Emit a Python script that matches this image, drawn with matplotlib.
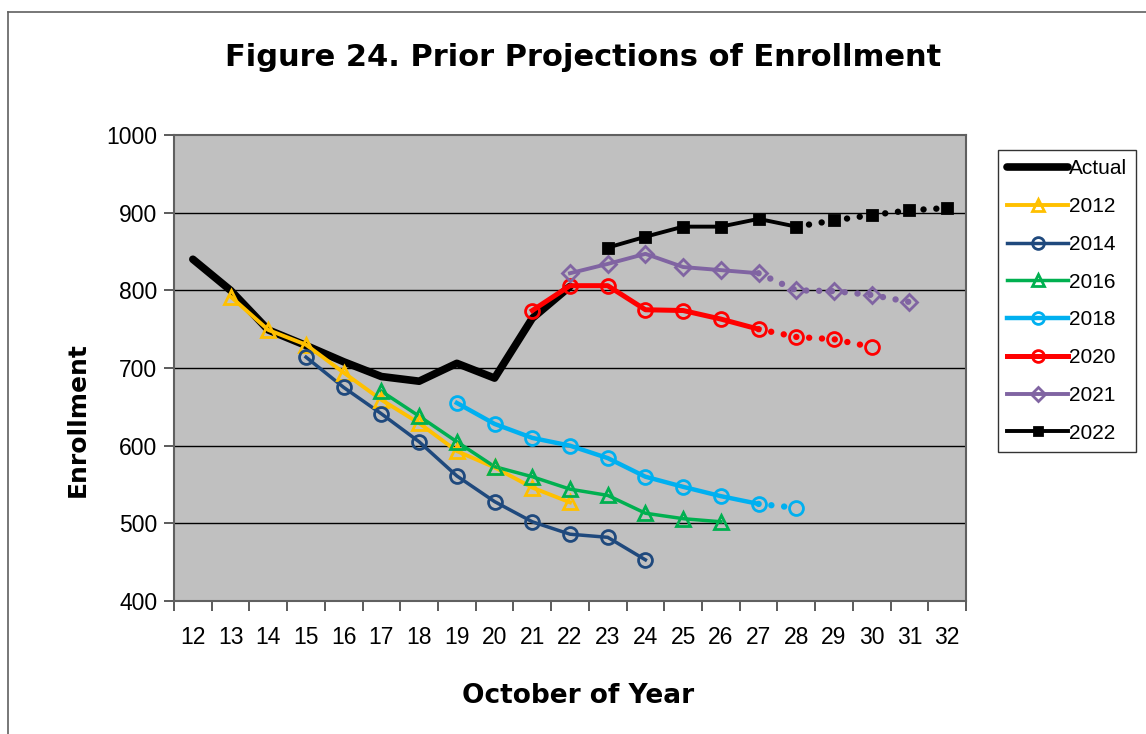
import matplotlib
matplotlib.use("Agg")
import matplotlib.pyplot as plt
from matplotlib.lines import Line2D

plt.rcParams["font.family"] = ["Liberation Sans", "DejaVu Sans"]

# October of year (x categories)
years = list(range(12, 33))
year_labels = [str(y) for y in years]

# actual enrollment
actual_years = [12, 13, 14, 15, 16, 17, 18, 19, 20, 21, 22]
actual_vals = [840, 800, 749, 729, 708, 689, 683, 706, 687, 764, 805]

# prior projections
p2012_years = [13, 14, 15, 16, 17, 18, 19, 20, 21, 22]
p2012_vals = [792, 749, 730, 694, 659, 629, 593, 572, 546, 527]

p2014_years = [15, 16, 17, 18, 19, 20, 21, 22, 23, 24]
p2014_vals = [714, 675, 641, 605, 561, 528, 502, 486, 482, 453]

p2016_years = [17, 18, 19, 20, 21, 22, 23, 24, 25, 26]
p2016_vals = [670, 638, 605, 573, 560, 544, 536, 513, 506, 502]

p2018_years = [19, 20, 21, 22, 23, 24, 25, 26, 27, 28]
p2018_vals = [655, 628, 610, 600, 584, 560, 547, 535, 525, 520]

p2020_years = [21, 22, 23, 24, 25, 26, 27, 28, 29, 30]
p2020_vals = [774, 806, 806, 775, 774, 763, 750, 740, 737, 727]

p2021_years = [22, 23, 24, 25, 26, 27, 28, 29, 30, 31]
p2021_vals = [822, 834, 847, 830, 826, 822, 800, 799, 794, 785]

p2022_years = [23, 24, 25, 26, 27, 28, 29, 30, 31, 32]
p2022_vals = [855, 869, 882, 882, 892, 882, 890, 897, 903, 906]

# name, years, values, last solid year (dotted after), colour, marker, line width
series = [
    ("2012", p2012_years, p2012_vals, None, "#FFC000", "^", 2.8),
    ("2014", p2014_years, p2014_vals, None, "#1F497D", "o", 2.5),
    ("2016", p2016_years, p2016_vals, None, "#00B050", "^", 2.5),
    ("2018", p2018_years, p2018_vals, 27, "#00B0F0", "o", 3.2),
    ("2020", p2020_years, p2020_vals, 27, "#FF0000", "o", 3.6),
    ("2021", p2021_years, p2021_vals, 27, "#8064A2", "D", 2.8),
    ("2022", p2022_years, p2022_vals, 28, "#000000", "s", 2.8),
]


def pos(ys):
    return [years.index(y) for y in ys]


fig = plt.figure(figsize=(11.46, 7.34), dpi=100)
ax = fig.add_axes([174 / 1146, 133 / 734, 792 / 1146, 466 / 734])
ax.set_facecolor("#C0C0C0")

for v in range(500, 1000, 100):
    ax.axhline(v, color="black", lw=1.0, zorder=1)

ax.plot(pos(actual_years), actual_vals, color="black", lw=5.5,
        solid_capstyle="round", solid_joinstyle="round", zorder=3)

handles = [Line2D([], [], color="black", lw=5.5, solid_capstyle="round")]
for name, ys, vals, dot_from, color, mk, lw in series:
    x = pos(ys)
    if dot_from is None:
        cut = len(ys)
    else:
        cut = ys.index(dot_from) + 1
    ms = 7.5 if mk == "s" else (8 if mk == "D" else 10)
    mfc = color if mk == "s" else "none"
    ax.plot(x[:cut], vals[:cut], color=color, lw=lw, zorder=4)
    if cut < len(ys):
        ax.plot(x[cut - 1:], vals[cut - 1:], color=color, lw=4.6,
                linestyle=(0, (0.01, 2.0)), dash_capstyle="round", zorder=4)
    ax.plot(x, vals, linestyle="none", marker=mk, ms=ms, mfc=mfc,
            mec=color, mew=2, zorder=5)
    handles.append(Line2D([], [], color=color, lw=lw, marker=mk,
                          ms=ms * 0.85, mfc=mfc, mec=color, mew=2))

ax.set_xlim(-0.5, len(years) - 0.5)
ax.set_ylim(400, 1000)
ax.set_yticks(range(400, 1001, 100))
ax.set_xticks(range(len(years)))
ax.set_xticklabels(year_labels)
ax.set_xticks([i - 0.5 for i in range(len(years) + 1)], minor=True)
ax.tick_params(axis="x", which="major", length=0, labelsize=16.5, pad=18)
ax.tick_params(axis="x", which="minor", length=7, width=1.2, color="#404040")
ax.tick_params(axis="y", length=7, width=1.2, color="#404040", labelsize=16.5, pad=5)
for s in ax.spines.values():
    s.set_color("#606060")
    s.set_linewidth(1.5)

ax.set_ylabel("Enrollment", fontsize=18, fontweight="heavy",
              family="DejaVu Sans")
ax.yaxis.set_label_coords((90 - 174) / 792, (601 - 420) / 466)
ax.set_xlabel("October of Year", fontsize=19, fontweight="heavy",
              family="DejaVu Sans")
ax.xaxis.set_label_coords((578 - 174) / 792, -(683 - 601) / 466)
fig.text(583 / 1146, 1 - 57 / 734, "Figure 24. Prior Projections of Enrollment",
         ha="center", va="center", fontsize=22, fontweight="heavy",
         family="DejaVu Sans")

leg = fig.legend(handles, ["Actual"] + [s[0] for s in series],
                 loc="upper left", bbox_to_anchor=(998 / 1146, 1 - 150 / 734),
                 fontsize=15, handlelength=2.9, handletextpad=0.05,
                 labelspacing=0.9, borderpad=0.45, borderaxespad=0,
                 fancybox=False, frameon=True)
leg.get_frame().set_edgecolor("black")
leg.get_frame().set_linewidth(1)

# outer chart border
fig.add_artist(Line2D([8 / 1146, 1], [1 - 12 / 734, 1 - 12 / 734],
                      color="#606060", lw=1.2))
fig.add_artist(Line2D([8 / 1146, 8 / 1146], [0, 1 - 12 / 734],
                      color="#606060", lw=1.2))

fig.savefig("out.png", dpi=100)
